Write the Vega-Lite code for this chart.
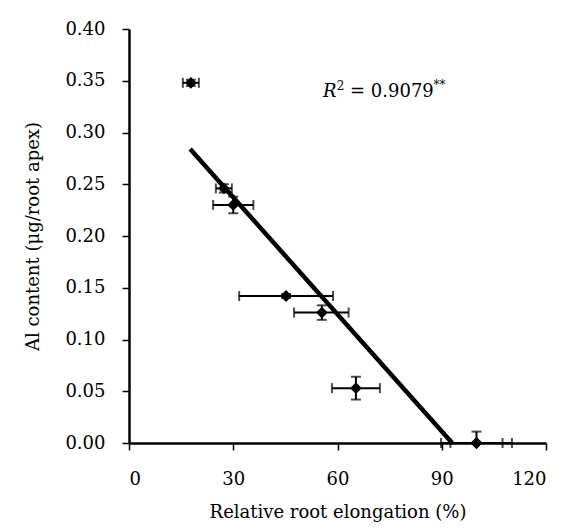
{
  "$schema": "https://vega.github.io/schema/vega-lite/v6.json",
  "width": 417,
  "height": 414,
  "autosize": "none",
  "padding": {"left": 129, "top": 29, "right": 17, "bottom": 88},
  "background": "white",
  "config": {
    "view": {"stroke": null},
    "font": "DejaVu Serif",
    "axis": {
      "labelFont": "DejaVu Serif",
      "titleFont": "DejaVu Serif",
      "labelFontSize": 18,
      "titleFontSize": 18,
      "titleFontWeight": "normal",
      "labelColor": "black",
      "titleColor": "black",
      "domainColor": "black",
      "domainWidth": 2.5,
      "tickColor": "black",
      "tickWidth": 1.5,
      "tickSize": 7,
      "grid": false
    }
  },
  "datasets": {
    "pts": [
      {"x": 17.8, "y": 0.348, "xlo": 15.5, "xhi": 20.1, "ylo": 0.345, "yhi": 0.351},
      {"x": 27.3, "y": 0.246, "xlo": 25.0, "xhi": 29.6, "ylo": 0.242, "yhi": 0.250},
      {"x": 30.0, "y": 0.230, "xlo": 24.2, "xhi": 35.8, "ylo": 0.222, "yhi": 0.238},
      {"x": 45.2, "y": 0.142, "xlo": 31.7, "xhi": 58.7, "ylo": 0.140, "yhi": 0.144},
      {"x": 55.5, "y": 0.126, "xlo": 47.5, "xhi": 63.2, "ylo": 0.119, "yhi": 0.133},
      {"x": 65.3, "y": 0.053, "xlo": 58.4, "xhi": 72.2, "ylo": 0.042, "yhi": 0.064},
      {"x": 100.0, "y": 0.0, "xlo": 92.5, "xhi": 107.5, "ylo": 0.0, "yhi": 0.011},
      {"x": 100.0, "y": 0.0, "xlo": 89.8, "xhi": 110.2, "ylo": 0.0, "yhi": 0.0}
    ],
    "fit": [
      {"x": 17.6, "y": 0.284},
      {"x": 93.0, "y": 0.0}
    ]
  },
  "layer": [
    {
      "data": {"name": "pts"},
      "mark": {"type": "rule", "color": "black", "strokeWidth": 2},
      "encoding": {
        "x": {"field": "xlo", "type": "quantitative", "scale": {"domain": [0, 120], "nice": false},
          "axis": {"values": [0, 30, 60, 90, 120], "title": "Relative root elongation (%)", "labelPadding": 20, "titlePadding": 15}},
        "x2": {"field": "xhi"},
        "y": {"field": "y", "type": "quantitative", "scale": {"domain": [0, 0.4], "nice": false},
          "axis": {"values": [0, 0.05, 0.1, 0.15, 0.2, 0.25, 0.3, 0.35, 0.4], "format": ".2f", "title": "Al content (μg/root apex)", "labelPadding": 17, "titlePadding": 22}}
      }
    },
    {
      "data": {"name": "pts"},
      "mark": {"type": "rule", "color": "black", "strokeWidth": 2},
      "encoding": {
        "x": {"field": "x", "type": "quantitative"},
        "y": {"field": "ylo", "type": "quantitative"},
        "y2": {"field": "yhi"}
      }
    },
    {
      "data": {"name": "pts"},
      "mark": {"type": "tick", "orient": "vertical", "color": "black", "thickness": 2, "size": 10},
      "encoding": {
        "x": {"field": "xlo", "type": "quantitative"},
        "y": {"field": "y", "type": "quantitative"}
      }
    },
    {
      "data": {"name": "pts"},
      "mark": {"type": "tick", "orient": "vertical", "color": "black", "thickness": 2, "size": 10},
      "encoding": {
        "x": {"field": "xhi", "type": "quantitative"},
        "y": {"field": "y", "type": "quantitative"}
      }
    },
    {
      "data": {"name": "pts"},
      "mark": {"type": "tick", "orient": "horizontal", "color": "black", "thickness": 2, "size": 10},
      "encoding": {
        "x": {"field": "x", "type": "quantitative"},
        "y": {"field": "ylo", "type": "quantitative"}
      }
    },
    {
      "data": {"name": "pts"},
      "mark": {"type": "tick", "orient": "horizontal", "color": "black", "thickness": 2, "size": 10},
      "encoding": {
        "x": {"field": "x", "type": "quantitative"},
        "y": {"field": "yhi", "type": "quantitative"}
      }
    },
    {
      "data": {"name": "pts"},
      "mark": {"type": "point", "shape": "diamond", "filled": true, "color": "black", "opacity": 1, "size": 140},
      "encoding": {
        "x": {"field": "x", "type": "quantitative"},
        "y": {"field": "y", "type": "quantitative"}
      }
    },
    {
      "data": {"name": "fit"},
      "mark": {"type": "line", "color": "black", "strokeWidth": 4.5},
      "encoding": {
        "x": {"field": "x", "type": "quantitative"},
        "y": {"field": "y", "type": "quantitative"}
      }
    },
    {
      "data": {"values": [{"x": 55.8, "y": 0.334, "t": "R"}]},
      "mark": {"type": "text", "align": "left", "baseline": "alphabetic", "fontSize": 18, "fontStyle": "italic", "color": "black"},
      "encoding": {
        "x": {"field": "x", "type": "quantitative"},
        "y": {"field": "y", "type": "quantitative"},
        "text": {"field": "t"}
      }
    },
    {
      "data": {"values": [{"x": 59.8, "y": 0.341, "t": "2"}]},
      "mark": {"type": "text", "align": "left", "baseline": "alphabetic", "fontSize": 12, "color": "black"},
      "encoding": {
        "x": {"field": "x", "type": "quantitative"},
        "y": {"field": "y", "type": "quantitative"},
        "text": {"field": "t"}
      }
    },
    {
      "data": {"values": [{"x": 63.6, "y": 0.334, "t": "= 0.9079"}]},
      "mark": {"type": "text", "align": "left", "baseline": "alphabetic", "fontSize": 18, "color": "black"},
      "encoding": {
        "x": {"field": "x", "type": "quantitative"},
        "y": {"field": "y", "type": "quantitative"},
        "text": {"field": "t"}
      }
    },
    {
      "data": {"values": [{"x": 87.6, "y": 0.342, "t": "**"}]},
      "mark": {"type": "text", "align": "left", "baseline": "alphabetic", "fontSize": 12, "color": "black"},
      "encoding": {
        "x": {"field": "x", "type": "quantitative"},
        "y": {"field": "y", "type": "quantitative"},
        "text": {"field": "t"}
      }
    }
  ]
}
